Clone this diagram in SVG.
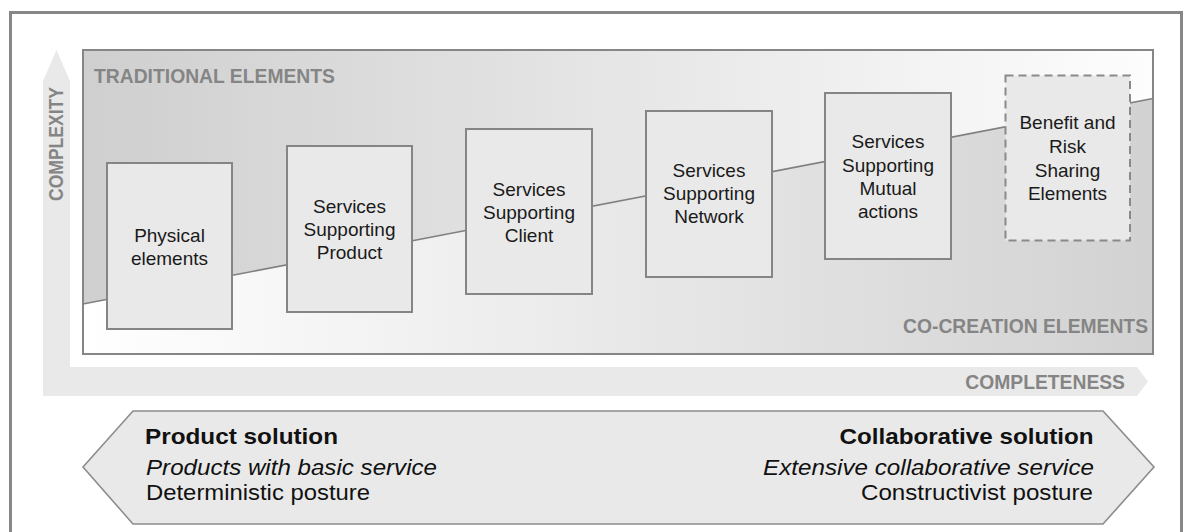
<svg xmlns="http://www.w3.org/2000/svg" width="1186" height="532" viewBox="0 0 1186 532">
<defs>
<linearGradient id="gTop" gradientUnits="userSpaceOnUse" x1="83" y1="0" x2="1153" y2="0">
<stop offset="0" stop-color="#cfcfcf"/><stop offset="1" stop-color="#fdfdfd"/>
</linearGradient>
<linearGradient id="gBot" gradientUnits="userSpaceOnUse" x1="83" y1="0" x2="1153" y2="0">
<stop offset="0" stop-color="#ffffff"/><stop offset="1" stop-color="#d2d2d2"/>
</linearGradient>
</defs>
<style>
.box{fill:#e9e9e9;stroke:#858585;stroke-width:2}
.dash{fill:#e9e9e9;stroke:#8a8a8a;stroke-width:2;stroke-dasharray:8 5}
.bt{font-family:"Liberation Sans",Arial,sans-serif;font-size:19px;fill:#1a1a1a;text-anchor:middle}
.lbl{font-family:"Liberation Sans",Arial,sans-serif;font-size:19.3px;font-weight:bold;fill:#858585}
.bb{font-family:"Liberation Sans",Arial,sans-serif;font-size:22.5px;font-weight:bold;fill:#111}
.bi{font-family:"Liberation Sans",Arial,sans-serif;font-size:21.5px;font-style:italic;fill:#111}
.br{font-family:"Liberation Sans",Arial,sans-serif;font-size:21.5px;fill:#111}
</style>
<rect x="0" y="0" width="1186" height="532" fill="#ffffff"/>
<!-- outer frame -->
<rect x="10.5" y="12.5" width="1171" height="530" fill="none" stroke="#878787" stroke-width="3"/>

<!-- axes -->
<g id="axes">
<polygon points="56.5,50 70,81 70,367 1137,367 1148,381.5 1137,396 43,396 43,81" fill="#e9e9e9"/>
<text class="lbl" transform="translate(62.5,201) rotate(-90)" font-size="24" textLength="114" lengthAdjust="spacingAndGlyphs">COMPLEXITY</text>
<text class="lbl" x="1125" y="389" text-anchor="end">COMPLETENESS</text>
</g>

<!-- panel -->
<g id="panel">
<polygon points="83,50 1153,50 1153,98.5 83,304" fill="url(#gTop)"/>
<polygon points="83,304 1153,98.5 1153,354 83,354" fill="url(#gBot)"/>
<rect x="83" y="50" width="1070" height="304" fill="none" stroke="#868686" stroke-width="2"/>
<text class="lbl" x="94" y="83" textLength="241" lengthAdjust="spacingAndGlyphs">TRADITIONAL ELEMENTS</text>
<text class="lbl" x="1148" y="333" text-anchor="end">CO-CREATION ELEMENTS</text>
</g>

<g id="connectors">
<line x1="83" y1="304" x2="1153" y2="98.5" stroke="#808080" stroke-width="1.6"/>
</g>

<g id="node-physical">
<rect class="box" x="107" y="163" width="125" height="166"/>
<text class="bt" x="169.5" y="242">Physical</text>
<text class="bt" x="169.5" y="265">elements</text>
</g>
<g id="node-product">
<rect class="box" x="287" y="146" width="125" height="166"/>
<text class="bt" x="349.5" y="213">Services</text>
<text class="bt" x="349.5" y="236">Supporting</text>
<text class="bt" x="349.5" y="259">Product</text>
</g>
<g id="node-client">
<rect class="box" x="466" y="129" width="126" height="165"/>
<text class="bt" x="529" y="195.5">Services</text>
<text class="bt" x="529" y="218.5">Supporting</text>
<text class="bt" x="529" y="241.5">Client</text>
</g>
<g id="node-network">
<rect class="box" x="646" y="111" width="126" height="166"/>
<text class="bt" x="709" y="177">Services</text>
<text class="bt" x="709" y="200">Supporting</text>
<text class="bt" x="709" y="223">Network</text>
</g>
<g id="node-mutual">
<rect class="box" x="825" y="93" width="126" height="166"/>
<text class="bt" x="888" y="148.3">Services</text>
<text class="bt" x="888" y="171.7">Supporting</text>
<text class="bt" x="888" y="195">Mutual</text>
<text class="bt" x="888" y="218.3">actions</text>
</g>
<g id="node-benefit">
<rect class="dash" x="1005.5" y="75.5" width="124.5" height="165"/>
<text class="bt" x="1067.5" y="129.3">Benefit and</text>
<text class="bt" x="1067.5" y="153">Risk</text>
<text class="bt" x="1067.5" y="176.5">Sharing</text>
<text class="bt" x="1067.5" y="200">Elements</text>
</g>

<g id="banner">
<polygon points="83,467 133,411 1103,411 1154,467 1103,524 133,524" fill="#e9e9e9" stroke="#8c8c8c" stroke-width="1.6"/>
<text class="bb" x="145" y="444" textLength="193" lengthAdjust="spacingAndGlyphs">Product solution</text>
<text class="bi" x="146" y="475" textLength="291" lengthAdjust="spacingAndGlyphs">Products with basic service</text>
<text class="br" x="146" y="500" textLength="224" lengthAdjust="spacingAndGlyphs">Deterministic posture</text>
<text class="bb" x="1093.5" y="444" text-anchor="end" textLength="254" lengthAdjust="spacingAndGlyphs">Collaborative solution</text>
<text class="bi" x="1094" y="475" text-anchor="end" textLength="331" lengthAdjust="spacingAndGlyphs">Extensive collaborative service</text>
<text class="br" x="1093" y="500" text-anchor="end" textLength="232" lengthAdjust="spacingAndGlyphs">Constructivist posture</text>
</g>
</svg>
